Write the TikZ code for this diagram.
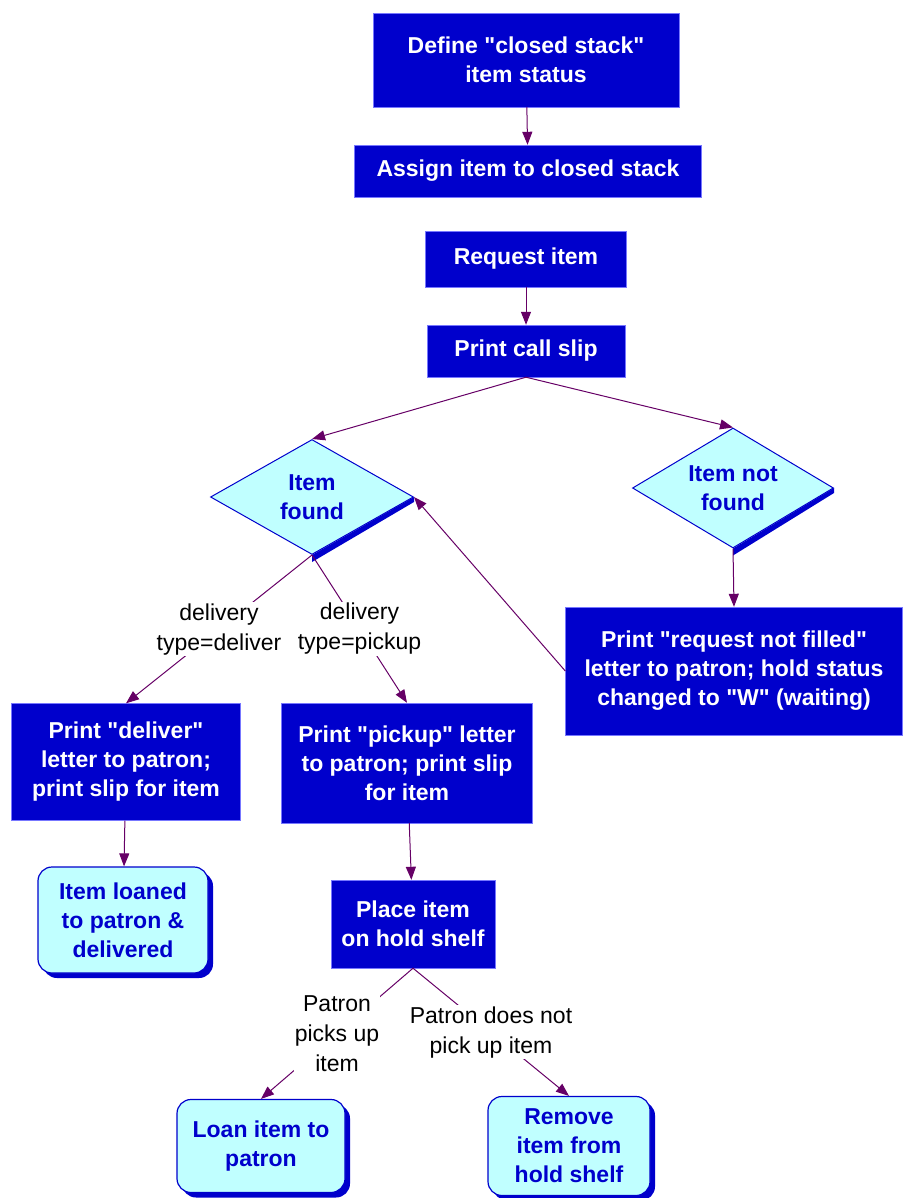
\documentclass[tikz,border=0pt]{standalone}
\usepackage{fontspec}
\setmainfont{Liberation Sans}
\usepackage{tikz}
\usetikzlibrary{positioning, arrows.meta, shapes.geometric, shadows}
\definecolor{boxblue}{HTML}{0000CC}
\definecolor{paleblue}{HTML}{C0FFFF}
\definecolor{flowpurple}{HTML}{660066}
\definecolor{edgeblue}{HTML}{7777FF}
\newcommand{\dq}{\textquotedbl}

\tikzset{
  procbox/.style={fill=boxblue, draw=edgeblue, text=white, inner sep=0pt,
        align=center, font=\fontsize{23}{29}\selectfont\bfseries},
  endbox/.style={fill=paleblue, draw=boxblue, line width=1.2pt, rounded corners=14pt,
        text=boxblue, inner sep=0pt, align=center,
        font=\fontsize{23}{29}\selectfont\bfseries,
        drop shadow={shadow xshift=5pt, shadow yshift=-5pt, fill=boxblue, opacity=1}},
  decision/.style={diamond, aspect=2, fill=paleblue, draw=boxblue, line width=1pt,
        text=boxblue, inner sep=0pt, align=center,
        font=\fontsize{23}{29}\selectfont\bfseries},
  lbl/.style={fill=white, inner sep=1pt, align=center,
        font=\fontsize{23}{30}\selectfont},
  flow/.style={draw=flowpurple, line width=1pt, -{Triangle[length=13pt, width=10pt]}}
}

\begin{document}
\begin{tikzpicture}[x=1pt, y=-1pt]
  \useasboundingbox (0,0) rectangle (902,1198);

  % closed stack setup
  \node[procbox, minimum width=306pt, minimum height=94pt] (define) at (526,60)
       {Define \dq closed stack\dq\\item status};
  \node[procbox, minimum width=347pt, minimum height=52pt] (assign) at (528,171)
       {Assign item to closed stack};

  % request
  \node[procbox, minimum width=201pt, minimum height=56pt] (request) at (526,259)
       {Request item};
  \node[procbox, minimum width=198pt, minimum height=52pt] (callslip) at (526,351)
       {Print call slip};

  \node[decision, minimum width=203pt, minimum height=115pt] (found) at (312,497)
       {Item\\found};
  \node[decision, minimum width=201pt, minimum height=120pt] (notfound) at (733,488)
       {Item not\\found};
  \fill[boxblue] (found.east) -- (found.south) -- ([yshift=-7pt]found.south)
       -- ([yshift=-5pt]found.east) -- cycle;
  \fill[boxblue] (notfound.east) -- (notfound.south) -- ([yshift=-7pt]notfound.south)
       -- ([yshift=-5pt]notfound.east) -- cycle;

  \node[procbox, minimum width=337pt, minimum height=128pt] (notfilled) at (734,671)
       {Print \dq request not filled\dq\\letter to patron; hold status\\changed to \dq W\dq\ (waiting)};
  \node[procbox, minimum width=229pt, minimum height=117pt] (deliver) at (126,762)
       {Print \dq deliver\dq\\letter to patron;\\print slip for item};
  \node[procbox, minimum width=251pt, minimum height=120pt] (pickup) at (407,763)
       {Print \dq pickup\dq\ letter\\to patron; print slip\\for item};

  \node[endbox, minimum width=170pt, minimum height=106pt] (loaned) at (123,920)
       {Item loaned\\to patron \&\\delivered};
  \node[procbox, minimum width=164pt, minimum height=88pt] (holdshelf) at (413,924)
       {Place item\\on hold shelf};
  \node[endbox, minimum width=168pt, minimum height=93pt] (loan) at (261,1146)
       {Loan item to\\patron};
  \node[endbox, minimum width=162pt, minimum height=99pt] (remove) at (569,1146)
       {Remove\\item from\\hold shelf};

  % connectors
  \draw[flow] (define) -- (assign);
  \draw[flow] (request) -- (callslip);
  \draw[flow] (callslip.south) -- (found.north);
  \draw[flow] (callslip.south) -- (notfound.north);
  \draw[flow] (notfound.south) -- (notfilled.north);
  \draw[flow] (notfilled.west) -- (found.east);
  \draw[flow] (found.south) -- node[lbl] {delivery\\type=deliver} (deliver.north);
  \draw[flow] (found.south) -- node[lbl] {delivery\\type=pickup} (pickup.north);
  \draw[flow] (deliver) -- (loaned);
  \draw[flow] (pickup) -- (holdshelf);
  \draw[flow] (holdshelf.south) -- node[lbl] {Patron\\picks up\\item} (loan.north);
  \draw[flow] (holdshelf.south) -- node[lbl] {Patron does not\\pick up item} (remove.north);
\end{tikzpicture}
\end{document}
